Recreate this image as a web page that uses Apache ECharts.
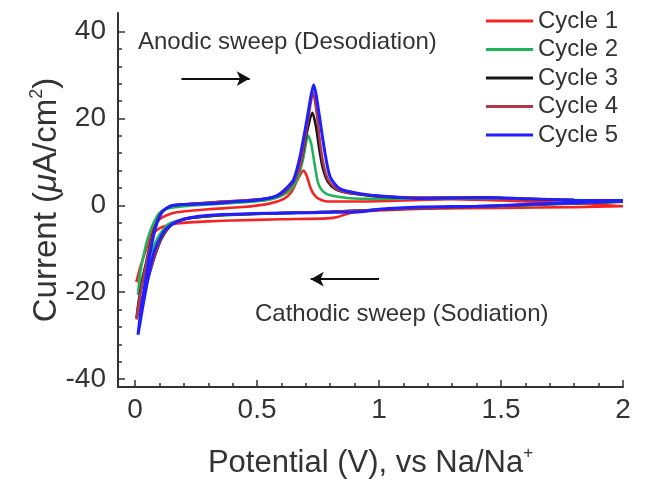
<!DOCTYPE html>
<html>
<head>
<meta charset="utf-8">
<script src="https://cdn.jsdelivr.net/npm/echarts@6/dist/echarts.min.js"></script>
<style>
    html, body { margin: 0; padding: 0; background: #fff; }
    #cv { width: 646px; height: 486px; }
</style>
</head>
<body>
<div id="cv"></div>
<script>
// 数据：电位 (V) 与 电流 (μA/cm2)，每圈先阴极扫描再阳极扫描
var cycleNames = ['Cycle 1', 'Cycle 2', 'Cycle 3', 'Cycle 4', 'Cycle 5'];

var cycle1 = [
    [2.0, -0.2], [1.8, -0.4], [1.5, -0.6], [1.2, -0.8], [1.0, -1.2], [0.9, -1.6], [0.86, -2.1], [0.83, -2.7],
    [0.79, -3.0], [0.6, -3.2], [0.4, -3.5], [0.3, -3.7], [0.17, -4.2], [0.1, -5.3], [0.061, -7.3],
    [0.05, -9.3], [0.035, -11.8], [0.02, -14.5], [0.005, -17.7],
    [0.02, -14.5], [0.035, -11.8], [0.05, -9.3], [0.061, -7.3], [0.08, -4.8], [0.1, -3.2], [0.13, -2.3],
    [0.17, -1.6], [0.3, -0.9], [0.44, -0.4], [0.55, 0.4], [0.61, 1.5], [0.64, 3.0], [0.665, 5.8], [0.69, 8.0],
    [0.705, 6.6], [0.718, 4.2], [0.732, 2.6], [0.75, 1.6], [0.79, 0.9], [0.92, 0.9], [1.1, 1.1], [1.3, 1.4],
    [1.5, 1.1], [1.7, 0.7], [1.85, 0.3], [2.0, -0.2]
];
var cycle2 = [
    [2.0, 0.8], [1.8, 0.4], [1.6, 0.0], [1.4, -0.3], [1.2, -0.6], [1.0, -1.0], [0.8, -1.5], [0.6, -1.8],
    [0.4, -2.2], [0.28, -2.6], [0.21, -3.1], [0.14, -4.2], [0.1, -6.8], [0.075, -9.6], [0.05, -13],
    [0.03, -16.5], [0.012, -20.6],
    [0.02, -16], [0.035, -11.5], [0.05, -8], [0.07, -4.8], [0.096, -2.0], [0.13, -0.8], [0.2, -0.2],
    [0.3, 0.2], [0.45, 0.7], [0.55, 1.3], [0.6, 2.2], [0.64, 3.8], [0.67, 6.8], [0.69, 11], [0.709, 16.1],
    [0.722, 14.2], [0.735, 9.8], [0.75, 5.2], [0.77, 3.2], [0.8, 2.3], [0.87, 1.7], [1.0, 1.5], [1.3, 1.7],
    [1.5, 1.6], [1.7, 1.3], [2.0, 1.0]
];
var cycle3 = [
    [2.0, 0.9], [1.8, 0.5], [1.6, 0.1], [1.4, -0.3], [1.2, -0.6], [1.0, -1.0], [0.8, -1.5], [0.6, -1.8],
    [0.4, -2.1], [0.28, -2.6], [0.2, -3.2], [0.15, -4.5], [0.11, -7.5], [0.085, -11], [0.06, -15.5],
    [0.035, -20.5], [0.015, -24], [0.006, -26],
    [0.015, -22], [0.035, -16], [0.06, -9.5], [0.085, -4.5], [0.11, -1.5], [0.15, -0.1], [0.25, 0.4],
    [0.35, 0.8], [0.45, 1.1], [0.55, 1.7], [0.61, 3.0], [0.65, 5.5], [0.68, 10], [0.705, 17], [0.727, 21.3],
    [0.742, 18], [0.755, 13], [0.77, 8.5], [0.79, 5.5], [0.82, 3.8], [0.86, 3.0], [0.92, 2.5], [1.0, 2.0],
    [1.2, 1.7], [1.4, 1.8], [1.6, 1.5], [1.8, 1.2], [2.0, 1.1]
];
var cycle4 = [
    [2.0, 0.9], [1.8, 0.5], [1.6, 0.1], [1.4, -0.3], [1.2, -0.6], [1.0, -1.0], [0.8, -1.5], [0.6, -1.8],
    [0.4, -2.1], [0.28, -2.5], [0.2, -3.1], [0.15, -4.4], [0.11, -7.2], [0.085, -10.8], [0.06, -15.5],
    [0.035, -20.5], [0.015, -24], [0.006, -26.3],
    [0.015, -22.5], [0.035, -16.5], [0.06, -10], [0.085, -4.8], [0.11, -1.6], [0.15, -0.1], [0.25, 0.4],
    [0.35, 0.8], [0.45, 1.1], [0.55, 1.7], [0.61, 3.0], [0.65, 5.5], [0.68, 10], [0.707, 19], [0.73, 25.9],
    [0.745, 21], [0.758, 14.5], [0.772, 9.5], [0.79, 6], [0.82, 4], [0.86, 3.0], [0.92, 2.6], [1.0, 2.1],
    [1.2, 1.8], [1.4, 1.8], [1.6, 1.5], [1.8, 1.2], [2.0, 1.1]
];
var cycle5 = [
    [2.0, 1.0], [1.8, 0.6], [1.6, 0.2], [1.4, -0.2], [1.17, -0.4], [1.0, -0.9], [0.92, -1.5], [0.8, -1.6],
    [0.717, -1.7], [0.5, -1.9], [0.307, -2.3], [0.22, -2.9], [0.171, -3.8], [0.14, -4.8], [0.116, -6.2],
    [0.095, -8.5], [0.075, -11.2], [0.058, -15.5], [0.041, -20.4], [0.025, -25.5], [0.012, -29.8],
    [0.02, -26], [0.034, -20.4], [0.048, -15.5], [0.061, -11], [0.075, -7.2], [0.089, -4.2], [0.103, -2.3],
    [0.116, -1.2], [0.157, 0], [0.307, 0.4], [0.4, 0.8], [0.51, 1.3], [0.58, 2.2], [0.608, 3.3], [0.63, 4.5],
    [0.649, 5.8], [0.676, 11.2], [0.704, 19.6], [0.722, 25.5], [0.732, 27.8], [0.742, 25.5], [0.758, 19.6],
    [0.779, 11.9], [0.8, 6.5], [0.84, 3.8], [0.922, 2.7], [1.0, 2.2], [1.17, 1.6], [1.3, 1.7], [1.45, 1.8],
    [1.6, 1.5], [1.8, 1.2], [2.0, 1.1]
];

// 刻度
var xMajorTicks = [0, 0.5, 1, 1.5, 2];
var xMinorTicks = [0.1, 0.2, 0.3, 0.4, 0.6, 0.7, 0.8, 0.9, 1.1, 1.2, 1.3, 1.4, 1.6, 1.7, 1.8, 1.9];
var yMajorTicks = [-40, -20, 0, 20, 40];
var yMinorTicks = [-36, -32, -28, -24, -16, -12, -8, -4, 4, 8, 12, 16, 24, 28, 32, 36];

// 箭头（数据坐标）
var anodicArrow = [[0.19, 29.2], [0.47, 29.2]];
var cathodicArrow = [[1.0, -17.0], [0.72, -17.0]];

var colors = ['#f42424', '#20b35a', '#151515', '#b2374c', '#1f1fff'];
var font = '"Liberation Sans", Arial, sans-serif';
var textColor = '#333';

var cvChart = echarts.init(document.getElementById('cv'));

var cycles = [cycle1, cycle2, cycle3, cycle4, cycle5];
var series = [];
for (var i = 0; i < cycles.length; i++) {
    series.push({
        name: cycleNames[i],
        type: 'line',
        data: cycles[i],
        smooth: 0.25,
        showSymbol: false,
        symbol: 'none',
        lineStyle: { color: colors[i], width: i == 4 ? 3 : 2.6 },
        itemStyle: { color: colors[i] },
        z: 3 + i
    });
}
// 箭头
series.push({
    name: 'arrows',
    type: 'line',
    data: [],
    markLine: {
        silent: true,
        symbol: ['none', 'arrow'],
        symbolSize: [11, 13],
        label: { show: false },
        lineStyle: { color: '#111', width: 2, type: 'solid' },
        data: [
            [{ coord: anodicArrow[0] }, { coord: anodicArrow[1] }],
            [{ coord: cathodicArrow[0] }, { coord: cathodicArrow[1] }]
        ]
    }
});

var option = {
    animation: false,
    textStyle: { fontFamily: font },
    grid: { left: 118, top: 13, width: 505, height: 374 },
    legend: {
        data: cycleNames,
        orient: 'vertical',
        left: 486,
        top: 7,
        padding: 0,
        itemGap: 0.5,
        itemWidth: 47,
        itemHeight: 3,
        icon: 'rect',
        textStyle: { fontSize: 24, lineHeight: 28, color: textColor, fontFamily: font }
    },
    xAxis: [{
        type: 'value',
        min: -0.07,
        max: 2,
        position: 'bottom',
        name: '{a|Potential (V), vs Na/Na}{s|+}',
        nameLocation: 'middle',
        nameGap: 58,
        nameTextStyle: {
            rich: {
                a: { fontSize: 31, color: textColor, fontFamily: font, lineHeight: 36 },
                s: { fontSize: 17, color: textColor, fontFamily: font, lineHeight: 36, verticalAlign: 'top' }
            }
        },
        axisLine: { onZero: false, lineStyle: { color: '#333', width: 2 } },
        axisTick: { inside: true, length: 7, customValues: xMajorTicks, lineStyle: { color: '#333', width: 1.5 } },
        axisLabel: { customValues: xMajorTicks, fontSize: 28, color: textColor, margin: 9, fontFamily: font },
        splitLine: { show: false }
    }, {
        type: 'value',
        min: -0.07,
        max: 2,
        position: 'bottom',
        offset: 0,
        axisLine: { show: false, onZero: false },
        axisTick: { inside: true, length: 4, customValues: xMinorTicks, lineStyle: { color: '#333', width: 1.5 } },
        axisLabel: { show: false },
        splitLine: { show: false }
    }],
    yAxis: [{
        type: 'value',
        min: -41.84,
        max: 44.3,
        position: 'left',
        name: '{a|Current (}{m|μ}{a|A/cm}{s|2}{a|)}',
        nameLocation: 'middle',
        nameRotate: 90,
        nameGap: 52,
        nameMoveOverlap: false,
        nameTextStyle: {
            rich: {
                a: { fontSize: 33, color: textColor, fontFamily: font, lineHeight: 38 },
                m: { fontSize: 33, color: textColor, fontFamily: font, lineHeight: 38, fontStyle: 'italic' },
                s: { fontSize: 18, color: textColor, fontFamily: font, lineHeight: 38, verticalAlign: 'top' }
            }
        },
        axisLine: { onZero: false, lineStyle: { color: '#333', width: 2 } },
        axisTick: { inside: true, length: 7, customValues: yMajorTicks, lineStyle: { color: '#333', width: 1.5 } },
        axisLabel: { customValues: yMajorTicks, fontSize: 28, color: textColor, margin: 12, fontFamily: font },
        splitLine: { show: false }
    }, {
        type: 'value',
        min: -41.84,
        max: 44.3,
        position: 'left',
        offset: 0,
        axisLine: { show: false, onZero: false },
        axisTick: { inside: true, length: 4, customValues: yMinorTicks, lineStyle: { color: '#333', width: 1.5 } },
        axisLabel: { show: false },
        splitLine: { show: false }
    }],
    graphic: [{
        type: 'text',
        left: 138,
        top: 30,
        style: { text: 'Anodic sweep (Desodiation)', fontSize: 24, fill: textColor, fontFamily: font }
    }, {
        type: 'text',
        left: 255,
        top: 302,
        style: { text: 'Cathodic sweep (Sodiation)', fontSize: 24, fill: textColor, fontFamily: font }
    }],
    series: series
};
cvChart.setOption(option);
</script>
</body>
</html>
